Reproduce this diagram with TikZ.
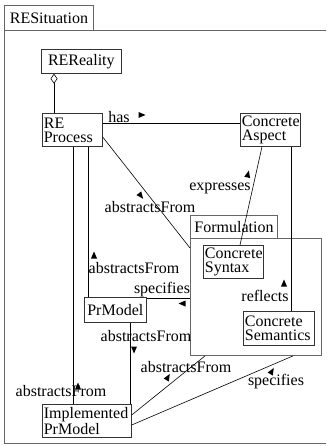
\documentclass[tikz,border=0pt]{standalone}
\usepackage{fontspec}
\setmainfont{Liberation Serif}
\usetikzlibrary{arrows.meta}
\begin{document}
\begin{tikzpicture}[x=1pt,y=-1pt,
  box/.style={draw=black!80, line width=0.7pt, anchor=north west, inner xsep=1.5pt, inner ysep=0pt, font=\fontsize{16}{14}\selectfont, align=left},
  tab/.style={draw=black!60, line width=0.9pt, anchor=north west, inner xsep=0pt, inner ysep=0pt, font=\fontsize{16}{14}\selectfont, align=center},
  framebox/.style={draw=black!60, line width=0.9pt, anchor=north west, inner sep=0pt},
  frameline/.style={draw=black!60, line width=0.9pt},
  conn/.style={draw=black, line width=0.6pt},
  lbl/.style={font=\fontsize{16}{14}\selectfont, inner sep=0pt},
  dirmark/.pic={\fill (3.5,0) -- (-3.5,3) -- (-3.5,-3) -- cycle;}
]
\useasboundingbox (0,0) rectangle (326,446);

% outer frame
\node[tab, minimum width=89pt, minimum height=25pt, text width=89pt] (situTab) at (4,5) {RESituation};
\draw[frameline] (326,30) -- (4,30) -- (4,443) -- (326,443);

% formulation frame
\node[tab, minimum width=87pt, minimum height=23pt, text width=87pt] (formTab) at (190,215) {Formulation};
\node[framebox, minimum width=131pt, minimum height=117pt] (formBox) at (190,238) {};

% classes
\node[box, align=center, minimum height=24pt, text width=77pt] (reReality) at (41,49) {REReality};
\node[box, minimum height=33pt, text width=57pt] (reProcess) at (42,113) {RE\\Process};
\node[box, minimum height=33pt, text width=57pt] (concAspect) at (240,113) {Concrete\\Aspect};
\node[box, minimum height=33pt, text width=57pt] (concSyntax) at (203,245) {Concrete\\Syntax};
\node[box, minimum height=34pt, text width=68pt] (concSemantics) at (243,311) {Concrete\\Semantics};
\node[box, align=center, minimum height=25pt, text width=59pt] (prModel) at (84,297) {PrModel};
\node[box, minimum height=33pt, text width=86pt] (implPrModel) at (42,404) {Implemented\\PrModel};

% connectors
\draw[conn, -{Diamond[open,length=10pt,width=7pt]}] ([xshift=12pt]reProcess.north west) -- ([xshift=13pt]reReality.south west);
\draw[conn] ([yshift=-10pt]reProcess.north east) -- ([yshift=-10pt]concAspect.north west);
\draw[conn] ([yshift=-24pt]reProcess.north east) -- ([yshift=-10pt]formBox.north west);
\draw[conn] ([xshift=22pt]concAspect.south west) -- ([xshift=37pt]concSyntax.north west);
\draw[conn] ([xshift=51pt]concAspect.south west) -- ([xshift=48pt]concSemantics.north west);
\draw[conn] ([xshift=46pt]reProcess.south west) -- ([xshift=4pt]prModel.north west);
\draw[conn] ([xshift=31pt]reProcess.south west) -- ([xshift=31pt]implPrModel.north west);
\draw[conn] ([yshift=-1.5pt]prModel.north east) -- ([yshift=-60.5pt]formBox.north west);
\draw[conn] ([xshift=46pt]prModel.south west) -- ([xshift=88pt]implPrModel.north west);
\draw[conn] ([yshift=-11pt]implPrModel.north east) -- ([xshift=15pt]formBox.south west);
\draw[conn] ([yshift=-21pt]implPrModel.north east) -- ([xshift=103pt]formBox.south west);

% labels
\node[lbl] (lHas) at (119,117) {has};
\node[lbl] (lAbs1) at (150,207) {abstractsFrom};
\node[lbl] (lExp) at (220,188) {expresses};
\node[lbl] (lAbs2) at (134,268) {abstractsFrom};
\node[lbl] (lSpec1) at (162,290) {specifies};
\node[lbl] (lRefl) at (265,296) {reflects};
\node[lbl] (lAbs3) at (146,336) {abstractsFrom};
\node[lbl] (lAbs4) at (186,367) {abstractsFrom};
\node[lbl] (lAbs5) at (61,391) {abstractsFrom};
\node[lbl] (lSpec2) at (276,382) {specifies};

% direction marks
\pic at (142,115) {dirmark};
\pic[rotate=-52] at (141,196) {dirmark};
\pic[rotate=77] at (248,174) {dirmark};
\pic[rotate=90] at (94,255) {dirmark};
\pic[rotate=180] at (182,303.5) {dirmark};
\pic[rotate=90] at (284,283) {dirmark};
\pic[rotate=-90] at (134,350) {dirmark};
\pic[rotate=60] at (168,377) {dirmark};
\pic[rotate=90] at (78,386) {dirmark};
\pic[rotate=60] at (272,371) {dirmark};
\end{tikzpicture}
\end{document}
